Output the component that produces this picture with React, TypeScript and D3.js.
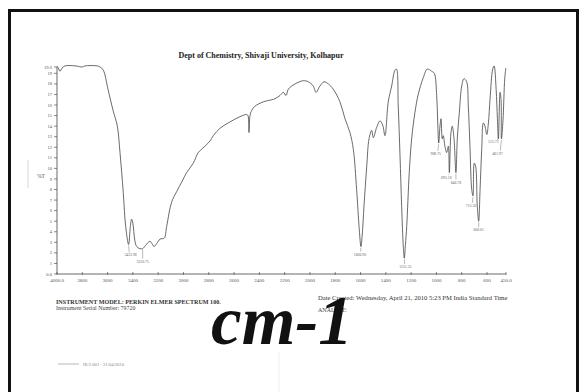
import React from "react";
import * as d3 from "d3";

const wavenumbers = [4000, 3990, 3976, 3960, 3937, 3850, 3800, 3780, 3680, 3660, 3634, 3597, 3557, 3523, 3502, 3476, 3457, 3434, 3420, 3410, 3400, 3385, 3370, 3345, 3323, 3300, 3265, 3245, 3233, 3210, 3186, 3152, 3133, 3094, 3054, 3010, 2975, 2922, 2883, 2830, 2790, 2764, 2711, 2632, 2553, 2500, 2490, 2482, 2474, 2460, 2434, 2369, 2303, 2276, 2237, 2211, 2189, 2171, 2118, 2053, 2013, 1974, 1952, 1921, 1889, 1855, 1816, 1763, 1723, 1684, 1657, 1631, 1610, 1597, 1585, 1573, 1551, 1533, 1512, 1499, 1472, 1446, 1425, 1407, 1381, 1354, 1328, 1316, 1302, 1288, 1275, 1262, 1254, 1245, 1235, 1215, 1196, 1170, 1144, 1104, 1072, 1038, 1017, 998, 990, 982, 972, 964, 954, 946, 933, 919, 906, 898, 885, 875, 861, 846, 835, 819, 800, 782, 761, 748, 735, 721, 711, 701, 690, 677, 666, 655, 642, 629, 616, 602, 589, 576, 555, 544, 528, 518, 510, 497, 489, 486, 474, 460, 451];
const transmittance = [19.7, 19.5, 19.2, 19.5, 19.7, 19.7, 19.6, 19.7, 19.7, 19.6, 19.3, 17.5, 15.5, 14.0, 11.5, 7.7, 4.5, 2.8, 4.5, 5.2, 4.8, 3.2, 2.6, 2.4, 2.4, 2.7, 3.1, 2.8, 2.6, 2.9, 3.3, 3.4, 4.5, 6.8, 7.8, 8.8, 9.6, 10.5, 11.5, 12.1, 12.6, 13.1, 13.8, 14.4, 14.9, 15.1, 15.0, 13.4, 15.0, 15.5, 15.9, 16.3, 16.5, 16.6, 16.9, 17.2, 16.9, 17.5, 18.0, 18.3, 18.2, 17.8, 17.2, 17.8, 18.2, 18.0, 17.5, 16.3, 14.7, 13.4, 11.8, 8.0, 4.2, 2.6, 4.0, 6.4, 10.2, 12.8, 13.6, 12.9, 13.9, 14.5, 14.1, 13.1, 16.3, 17.8, 19.3, 19.4, 15.9, 11.2, 6.4, 2.6, 1.5, 2.8, 4.5, 9.6, 12.8, 15.3, 17.0, 18.6, 19.4, 19.2, 19.0, 16.9, 14.4, 12.4, 14.0, 14.7, 12.8, 13.1, 12.1, 11.5, 12.1, 9.6, 13.4, 14.0, 12.8, 9.6, 12.8, 15.3, 17.8, 18.5, 18.2, 15.9, 12.1, 8.0, 7.4, 10.5, 10.2, 6.4, 5.0, 8.0, 11.8, 14.3, 14.0, 13.2, 14.3, 16.6, 19.4, 19.7, 17.5, 14.7, 12.8, 17.2, 16.5, 12.8, 14.5, 18.5, 19.5];

const peakWn = [3434, 3323, 1597, 1254, 982, 898, 846, 711, 666, 510, 486];
const peakT = [2.8, 2.4, 2.6, 1.5, 12.4, 9.6, 9.6, 7.4, 5.0, 12.8, 12.8];
const peakLabels = ["3433.98", "3320.75", "1606.90", "1251.55", "988.75", "895.18", "846.78", "713.30", "668.01", "515.72", "481.97"];

const xTicks = [4000, 3800, 3600, 3400, 3200, 3000, 2800, 2600, 2400, 2200, 2000, 1800, 1600, 1400, 1200, 1000, 800, 600, 450];
const xTickLabels = ["4000.0", "3800", "3600", "3400", "3200", "3000", "2800", "2600", "2400", "2200", "2000", "1800", "1600", "1400", "1200", "1000", "800", "600", "450.0"];
const yTicks = [0, 1, 2, 3, 4, 5, 6, 7, 8, 9, 10, 11, 12, 13, 14, 15, 16, 17, 18, 19, 19.6];
const yTickLabels = ["0.0", "1", "2", "3", "4", "5", "6", "7", "8", "9", "10", "11", "12", "13", "14", "15", "16", "17", "18", "19", "19.6"];

const title = "Dept of Chemistry, Shivaji University, Kolhapur";
const yTitle = "%T";
const dateText = "Date Created: Wednesday, April 21, 2010 5:23 PM India Standard Time";
const analystText = "ANALYST:";
const modelText = "INSTRUMENT MODEL: PERKIN ELMER SPECTRUM 100.";
const serialText = "Instrument Serial Number: 79720";
const legendText = "IR/2.001 - 21/04/2010";
const unitText = "cm-1";

// label placement tweaks (dx, dy below peak)
const labelOffsets: [number, number][] = [[2, 12], [0, 14], [-1, 9], [1, 10], [-3, 12], [-3, 6], [0, 11], [-2, 11], [0, 10], [-5, 4], [-4, 16]];

export default function App() {
  const x = d3.scaleLinear().domain([4000, 450]).range([57, 506]);
  const y = d3.scaleLinear().domain([0, 19.6]).range([274, 67]);
  const pts = wavenumbers.map((w, i) => [w, transmittance[i]] as [number, number]);
  const line = d3.line<[number, number]>().x(d => x(d[0])).y(d => y(d[1])).curve(d3.curveCatmullRom.alpha(0.5));
  const font = "'Liberation Serif', 'Times New Roman', serif";
  return (
    <svg width={587} height={392} style={{ position: "absolute", left: 0, top: 0, background: "#fff" }} fontFamily={font}>
      <rect x={0} y={0} width={587} height={392} fill="#fff" />
      <rect x={9.5} y={10.5} width={568} height={400} fill="none" stroke="#111" strokeWidth={3} />
      <line x1={28} x2={28} y1={160} y2={188} stroke="#ccc" strokeWidth={0.8} />
      <line x1={279} x2={279} y1={352} y2={392} stroke="#eee" strokeWidth={0.8} />
      <text x={261} y={57.5} textAnchor="middle" fontSize={8} fontWeight="bold" fill="#222">{title}</text>
      {/* axes */}
      <line x1={57} x2={57} y1={y(19.6)} y2={y(0)} stroke="#444" strokeWidth={0.8} />
      <line x1={57} x2={506} y1={y(0)} y2={y(0)} stroke="#444" strokeWidth={0.8} />
      {yTicks.map((t, i) => (
        <g key={"y" + i}>
          <line x1={54} x2={57} y1={y(t)} y2={y(t)} stroke="#555" strokeWidth={0.7} />
          <text x={52} y={y(t) + 1.6} textAnchor="end" fontSize={4.6} fill="#555">{yTickLabels[i]}</text>
        </g>
      ))}
      {xTicks.map((t, i) => (
        <g key={"x" + i}>
          <line x1={x(t)} x2={x(t)} y1={y(0) - 2} y2={y(0) + 1} stroke="#555" strokeWidth={0.7} />
          <text x={x(t)} y={y(0) + 8} textAnchor="middle" fontSize={5} fill="#555">{xTickLabels[i]}</text>
        </g>
      ))}
      <text x={37} y={178} fontSize={5.5} fill="#555">{yTitle}</text>
      <path d={line(pts) || ""} fill="none" stroke="#444" strokeWidth={0.8} />
      {peakWn.map((w, i) => {
        const px = x(w), py = y(peakT[i]);
        const [dx, dy] = labelOffsets[i];
        return (
          <g key={"p" + i}>
            <line x1={px} x2={px + dx * 0.3} y1={py + 1} y2={py + dy - 4} stroke="#777" strokeWidth={0.5} />
            <text x={px + dx} y={py + dy} textAnchor="middle" fontSize={3.8} fill="#666">{peakLabels[i]}</text>
          </g>
        );
      })}
      <text x={318} y={300} fontSize={6.6} fill="#333">{dateText}</text>
      <text x={318} y={312} fontSize={6} fill="#444">{analystText}</text>
      <text x={56} y={304} fontSize={6.1} fontWeight="bold" fill="#333">{modelText}</text>
      <text x={56} y={310} fontSize={5.9} fill="#444">{serialText}</text>
      <line x1={58} x2={79} y1={364} y2={364} stroke="#999" strokeWidth={0.7} />
      <text x={83} y={365.5} fontSize={4.6} fill="#888">{legendText}</text>
      <text x={211} y={344} fontSize={69} fontWeight="bold" fontStyle="italic" fill="#111">{unitText}</text>
    </svg>
  );
}
